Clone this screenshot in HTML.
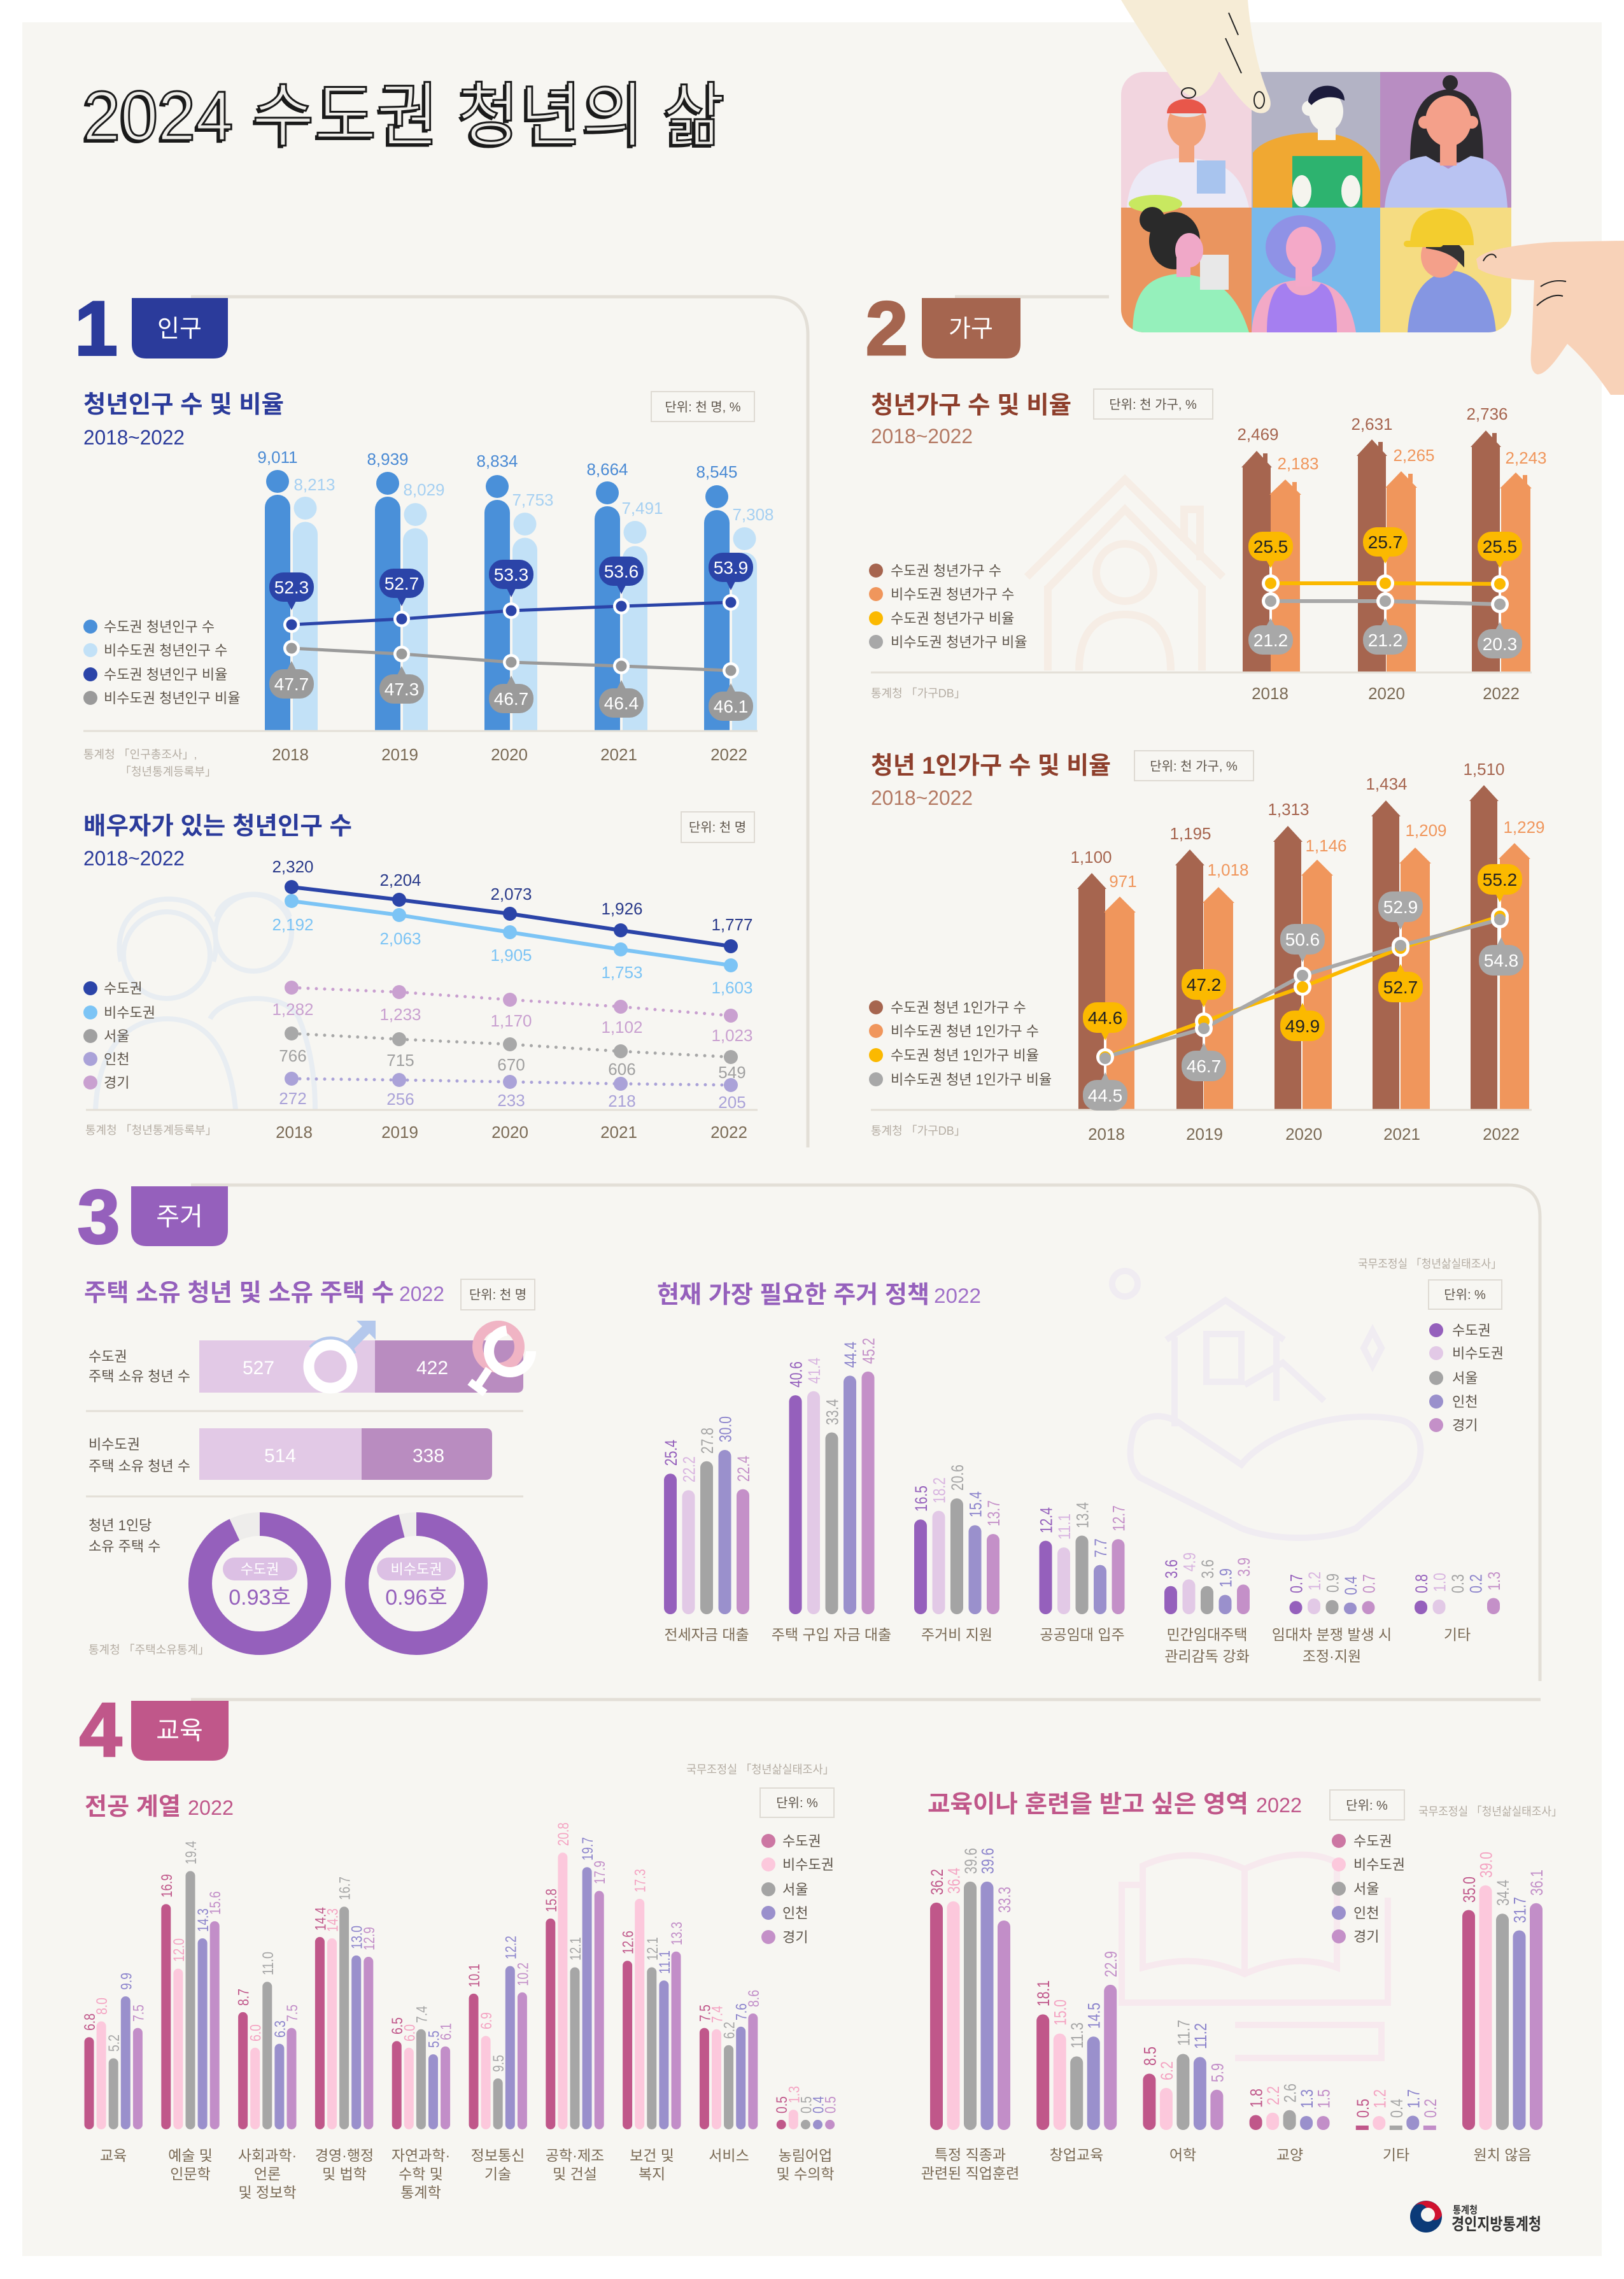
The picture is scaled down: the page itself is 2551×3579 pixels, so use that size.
<!DOCTYPE html>
<html><head><meta charset="utf-8">
<style>
html,body{margin:0;padding:0;background:#fff;}
svg{display:block}
text{font-family:"Liberation Sans","Noto Sans CJK KR",sans-serif;}
.n{font-family:"Liberation Sans Narrow","Liberation Sans","Noto Sans CJK KR",sans-serif;}
.b{font-weight:700}
.lg{font-size:22px;fill:#5e554b}
.yr{font-size:26px;fill:#7a6a55;text-anchor:middle}
.src{font-size:18px;fill:#b5ada3}
.unit{font-size:20px;fill:#5e554b;text-anchor:middle}
.v{font-size:26px;text-anchor:middle}
.bt{font-size:28px;text-anchor:middle}
.cat{font-size:23px;fill:#7a6a55;text-anchor:middle}
.r3{font-size:27px}
.r4{font-size:24px}
.r5{font-size:27px}
</style></head><body>
<svg width="2551" height="3579" viewBox="0 0 2551 3579" xmlns="http://www.w3.org/2000/svg">
<rect width="2551" height="3579" fill="#fff"/>
<rect x="35" y="35" width="2481" height="3508" fill="#f7f6f2"/>

<!-- frames -->
<g fill="none" stroke="#e3dfd7" stroke-width="5">
<path d="M300 466 H1209 Q1269 466 1269 526 V1802"/>
<path d="M1500 466 H1742"/>
<path d="M300 1861 H2369 Q2419 1861 2419 1911 V2640"/>
<path d="M300 2669 H2420"/>
</g>

<!-- faint background illustrations -->
<g fill="none" stroke="#e8edf2" stroke-width="8">
<circle cx="262" cy="1500" r="68"/>
<path d="M190 1510 C175 1440 230 1400 290 1415 C340 1430 345 1480 335 1510"/>
<circle cx="398" cy="1465" r="60"/>
<path d="M340 1440 C350 1395 440 1390 455 1440"/>
<path d="M150 1742 C155 1640 205 1600 262 1600 C320 1600 360 1640 370 1742"/>
<path d="M330 1600 C350 1560 450 1555 470 1600 C490 1650 495 1700 495 1742"/>
</g>
<g fill="none" stroke="#f6ede5" stroke-width="12">
<path d="M1613 906 L1767 753 L1921 906"/>
<path d="M1645 925 L1767 800 L1889 925"/>
<path d="M1646 920 V1053 M1888 920 V1053"/>
<circle cx="1767" cy="899" r="45"/>
<path d="M1695 1053 C1695 990 1725 965 1767 965 C1809 965 1839 990 1839 1053"/>
<path d="M1860 850 V800 H1885 V880"/>
</g>
<g fill="none" stroke="#f0ecf2" stroke-width="10">
<circle cx="1767" cy="2016" r="20"/>
<path d="M1832 2104 L1925 2042 L2017 2104"/>
<path d="M1845 2100 V2240 M2005 2100 V2200"/>
<rect x="1895" y="2095" width="55" height="75"/>
<path d="M1955 2175 L2015 2140 L2080 2200"/>
<path d="M1780 2250 C1790 2220 1830 2215 1860 2240 L1950 2300 C1990 2250 2100 2210 2200 2230 C2240 2240 2240 2300 2210 2330 L2130 2400 C2080 2420 2000 2420 1950 2400 L1790 2320 C1770 2300 1775 2270 1780 2250 Z"/>
<path d="M2156 2090 L2170 2117 L2156 2144 L2142 2117 Z"/>
</g>
<g fill="none" stroke="#f7e9ee" stroke-width="10">
<path d="M1795 2930 C1850 2905 1900 2910 1955 2935 C2010 2910 2060 2905 2100 2925 V3090 C2060 3075 2010 3075 1955 3100 C1900 3075 1850 3075 1795 3090 Z M1955 2935 V3100"/>
<path d="M1790 2960 H1762 V3145 H2180 V2980"/>
<path d="M1940 3180 H2170 V3232 H1940"/>
</g>

<!-- puzzle illustration -->
<clipPath id="pz"><rect x="1761" y="113" width="613" height="409" rx="36"/></clipPath>
<g clip-path="url(#pz)">
<rect x="1761" y="113" width="205" height="213" fill="#f2d5df"/>
<rect x="1966" y="113" width="202" height="213" fill="#b3b3c5"/>
<rect x="2168" y="113" width="206" height="213" fill="#b88dc2"/>
<rect x="1761" y="326" width="205" height="196" fill="#ea955f"/>
<rect x="1966" y="326" width="202" height="196" fill="#79b9eb"/>
<rect x="2168" y="326" width="206" height="196" fill="#f5dc82"/>
<!-- T1 -->
<path d="M1770 326 C1775 270 1800 250 1860 248 C1920 250 1950 270 1962 326 Z" fill="#eceaf6"/>
<rect x="1852" y="215" width="24" height="40" fill="#f2a27a"/>
<ellipse cx="1864" cy="196" rx="30" ry="36" fill="#f2a27a"/>
<ellipse cx="1864" cy="172" rx="30" ry="12" fill="#e4e4e4"/>
<path d="M1833 178 C1833 148 1895 148 1895 178 Z" fill="#e8574a"/>
<rect x="1880" y="252" width="45" height="52" fill="#a8c4ee"/>
<ellipse cx="1815" cy="320" rx="42" ry="14" fill="#c8e860"/>
<!-- T2 -->
<path d="M1968 326 V240 C1990 210 2060 205 2090 210 C2130 215 2160 240 2168 270 V326 Z" fill="#f0a832"/>
<rect x="2070" y="195" width="28" height="25" fill="#f5f4ee"/>
<ellipse cx="2083" cy="175" rx="27" ry="32" fill="#f5f4ee"/>
<circle cx="2057" cy="170" r="12" fill="#f5f4ee"/>
<path d="M2055 160 C2055 128 2112 125 2112 158 C2095 150 2075 150 2060 165 Z" fill="#1c1c3c"/>
<rect x="2030" y="245" width="110" height="81" fill="#2db36f"/>
<ellipse cx="2045" cy="300" rx="15" ry="25" fill="#f5f4ee"/>
<ellipse cx="2122" cy="300" rx="15" ry="25" fill="#f5f4ee"/>
<!-- T3 -->
<path d="M2215 255 C2215 180 2230 145 2275 140 C2320 145 2330 180 2330 255 Z" fill="#2c2a2e"/>
<circle cx="2278" cy="130" r="12" fill="#2c2a2e"/>
<path d="M2175 326 C2180 270 2200 250 2240 245 L2275 265 L2310 245 C2350 250 2365 270 2368 326 Z" fill="#b9c3f2"/>
<rect x="2262" y="215" width="26" height="45" fill="#f4a08a"/>
<ellipse cx="2275" cy="190" rx="36" ry="40" fill="#f4a08a"/>
<circle cx="2238" cy="192" r="10" fill="#f4a08a"/>
<circle cx="2312" cy="192" r="10" fill="#f4a08a"/>
<!-- T4 -->
<path d="M1779 522 C1780 460 1800 435 1850 430 C1900 432 1940 450 1962 522 Z" fill="#95f0bb"/>
<rect x="1885" y="400" width="45" height="55" fill="#e8e8e8"/>
<ellipse cx="1845" cy="378" rx="40" ry="45" fill="#2a2a2a"/>
<circle cx="1810" cy="345" r="20" fill="#2a2a2a"/>
<rect x="1848" y="405" width="22" height="30" fill="#f0a8c8"/>
<ellipse cx="1868" cy="393" rx="22" ry="27" fill="#f0a8c8"/>
<!-- T5 -->
<ellipse cx="2043" cy="388" rx="55" ry="50" fill="#8f92e6"/>
<path d="M1966 522 C1970 460 2000 440 2045 440 C2090 440 2120 460 2130 522 Z" fill="#f2a9c6"/>
<path d="M1990 522 C1990 470 2005 445 2020 445 C2030 470 2060 470 2075 445 C2090 450 2100 470 2100 522 Z" fill="#a57ff0"/>
<rect x="2035" y="410" width="26" height="40" fill="#f4a9c8"/>
<ellipse cx="2048" cy="390" rx="28" ry="34" fill="#f4a9c8"/>
<!-- T6 -->
<path d="M2211 522 C2215 460 2240 430 2280 425 C2320 428 2345 460 2350 522 Z" fill="#8596e2"/>
<ellipse cx="2262" cy="402" rx="30" ry="34" fill="#f4a08a"/>
<path d="M2240 380 C2260 370 2290 375 2300 395 L2300 420 C2290 410 2280 395 2240 390 Z" fill="#333"/>
<path d="M2215 385 C2215 340 2240 328 2265 328 C2295 328 2315 345 2315 385 Z" fill="#f3cd2e"/>
<rect x="2205" y="378" width="62" height="10" rx="5" fill="#f3cd2e"/>
</g>
<!-- hands -->
<path d="M1761 0 H1960 C1965 60 1978 115 1993 150 C2002 172 1988 182 1972 176 C1955 168 1935 140 1915 112 C1905 135 1893 152 1878 152 C1862 152 1848 135 1832 110 C1808 75 1782 35 1761 0 Z" fill="#f6ecd6"/>
<g fill="none" stroke="#222" stroke-width="2">
<ellipse cx="1978" cy="157" rx="8" ry="13"/>
<ellipse cx="1867" cy="146" rx="11" ry="8"/>
<path d="M1925 60 L1950 115 M1930 20 L1945 55"/>
</g>
<path d="M2319 407 C2332 392 2380 384 2440 380 L2551 378 V620 H2530 C2510 590 2485 560 2462 540 C2448 560 2430 588 2415 588 C2402 584 2404 560 2406 540 L2410 440 C2380 440 2340 434 2322 422 Z" fill="#f8d2b8"/>
<g fill="none" stroke="#222" stroke-width="2">
<path d="M2330 410 C2335 398 2348 396 2350 405"/>
<path d="M2420 450 C2435 440 2450 440 2460 442"/>
<path d="M2414 480 C2430 465 2445 462 2455 465"/>
</g>

<!-- header title -->
<text x="126" y="224" font-size="110" textLength="1009" lengthAdjust="spacingAndGlyphs" fill="#1a1a1a">2024 수도권 청년의 삶</text>
<text x="130" y="220" font-size="110" textLength="1009" lengthAdjust="spacingAndGlyphs" fill="#efeeea" stroke="#1a1a1a" stroke-width="3">2024 수도권 청년의 삶</text>

<!-- section badges -->
<text x="151" y="557" font-size="120" class="b" text-anchor="middle" fill="#2b3b9b" stroke="#2b3b9b" stroke-width="4">1</text>
<path d="M207 468 H358 V540 Q358 563 335 563 H230 Q207 563 207 540 Z" fill="#2b3b9b"/>
<text x="282" y="529" font-size="38" text-anchor="middle" fill="#fff">인구</text>
<text x="1393" y="557" font-size="120" class="b" text-anchor="middle" fill="#a5654f" stroke="#a5654f" stroke-width="3">2</text>
<path d="M1448 468 H1603 V540 Q1603 563 1580 563 H1471 Q1448 563 1448 540 Z" fill="#a5654f"/>
<text x="1525" y="529" font-size="38" text-anchor="middle" fill="#fff">가구</text>
<text x="155" y="1952" font-size="120" class="b" text-anchor="middle" fill="#9560bc" stroke="#9560bc" stroke-width="3">3</text>
<path d="M206 1863 H358 V1932 Q358 1957 333 1957 H231 Q206 1957 206 1932 Z" fill="#9560bc"/>
<text x="282" y="1924" font-size="40" text-anchor="middle" fill="#fff">주거</text>
<text x="158" y="2758" font-size="120" class="b" text-anchor="middle" fill="#c0578a" stroke="#c0578a" stroke-width="3">4</text>
<path d="M206 2671 H359 V2740 Q359 2765 334 2765 H231 Q206 2765 206 2740 Z" fill="#c0578a"/>
<text x="282" y="2731" font-size="40" text-anchor="middle" fill="#fff">교육</text>

<!-- ================= S1 C1 ================= -->
<text x="131" y="648" font-size="38" class="b" fill="#2b3b9b" textLength="315" lengthAdjust="spacingAndGlyphs">청년인구 수 및 비율</text>
<text x="131" y="698" font-size="32" class="n" fill="#2b3b9b" textLength="159" lengthAdjust="spacingAndGlyphs">2018~2022</text>
<rect x="1023" y="615" width="162" height="47" fill="none" stroke="#dedad3" stroke-width="2"/>
<text x="1104" y="646" class="unit">단위: 천 명, %</text>
<!-- bars -->
<g fill="#4a90d9">
<path d="M416 1147 V797 A20 20 0 0 1 456 797 V1147 Z"/><circle cx="436" cy="756" r="18"/>
<path d="M589 1147 V800 A20 20 0 0 1 629 800 V1147 Z"/><circle cx="609" cy="759" r="18"/>
<path d="M761 1147 V805 A20 20 0 0 1 801 805 V1147 Z"/><circle cx="781" cy="764" r="18"/>
<path d="M934 1147 V815 A20 20 0 0 1 974 815 V1147 Z"/><circle cx="954" cy="774" r="18"/>
<path d="M1106 1147 V821 A20 20 0 0 1 1146 821 V1147 Z"/><circle cx="1126" cy="780" r="18"/>
</g>
<g fill="#c2e1f7">
<path d="M460 1147 V839 A19.5 19.5 0 0 1 499 839 V1147 Z"/><circle cx="479.5" cy="798" r="18"/>
<path d="M633 1147 V849 A19.5 19.5 0 0 1 672 849 V1147 Z"/><circle cx="652.5" cy="808" r="18"/>
<path d="M805 1147 V864 A19.5 19.5 0 0 1 844 864 V1147 Z"/><circle cx="824.5" cy="823" r="18"/>
<path d="M978 1147 V877 A19.5 19.5 0 0 1 1017 877 V1147 Z"/><circle cx="997.5" cy="836" r="18"/>
<path d="M1150 1147 V887 A19.5 19.5 0 0 1 1189 887 V1147 Z"/><circle cx="1169.5" cy="846" r="18"/>
</g>
<line x1="131" y1="1148" x2="1190" y2="1148" stroke="#e3dfd7" stroke-width="3"/>
<g class="n v" fill="#4a8ad4">
<text x="436" y="727">9,011</text><text x="609" y="730">8,939</text><text x="781" y="733">8,834</text><text x="954" y="746">8,664</text><text x="1126" y="750">8,545</text>
</g>
<g class="n v" fill="#a6d0f2">
<text x="494" y="770">8,213</text><text x="666" y="778">8,029</text><text x="837" y="794">7,753</text><text x="1009" y="807">7,491</text><text x="1183" y="817">7,308</text>
</g>
<polyline points="458,981 631,972 803,959 976,952 1148,946" fill="none" stroke="#2b44a8" stroke-width="5"/>
<polyline points="458,1018 631,1027 803,1040 976,1046 1148,1053" fill="none" stroke="#9a9a9a" stroke-width="5"/>
<g fill="#fff"><circle cx="458" cy="981" r="13"/><circle cx="631" cy="972" r="13"/><circle cx="803" cy="959" r="13"/><circle cx="976" cy="952" r="13"/><circle cx="1148" cy="946" r="13"/>
<circle cx="458" cy="1018" r="13"/><circle cx="631" cy="1027" r="13"/><circle cx="803" cy="1040" r="13"/><circle cx="976" cy="1046" r="13"/><circle cx="1148" cy="1053" r="13"/></g>
<g fill="#2b44a8"><circle cx="458" cy="981" r="8.5"/><circle cx="631" cy="972" r="8.5"/><circle cx="803" cy="959" r="8.5"/><circle cx="976" cy="952" r="8.5"/><circle cx="1148" cy="946" r="8.5"/></g>
<g fill="#9a9a9a"><circle cx="458" cy="1018" r="8.5"/><circle cx="631" cy="1027" r="8.5"/><circle cx="803" cy="1040" r="8.5"/><circle cx="976" cy="1046" r="8.5"/><circle cx="1148" cy="1053" r="8.5"/></g>
<!-- navy bubbles -->
<g fill="#2b44a8">
<g transform="translate(458,922)"><rect x="-35" y="-23" width="70" height="46" rx="22"/><path d="M-8 20 L8 20 L0 36Z"/><text class="n bt" y="10" fill="#fff">52.3</text></g>
<g transform="translate(631,916)"><rect x="-35" y="-23" width="70" height="46" rx="22"/><path d="M-8 20 L8 20 L0 36Z"/><text class="n bt" y="10" fill="#fff">52.7</text></g>
<g transform="translate(803,902)"><rect x="-35" y="-23" width="70" height="46" rx="22"/><path d="M-8 20 L8 20 L0 36Z"/><text class="n bt" y="10" fill="#fff">53.3</text></g>
<g transform="translate(976,897)"><rect x="-35" y="-23" width="70" height="46" rx="22"/><path d="M-8 20 L8 20 L0 36Z"/><text class="n bt" y="10" fill="#fff">53.6</text></g>
<g transform="translate(1148,891)"><rect x="-35" y="-23" width="70" height="46" rx="22"/><path d="M-8 20 L8 20 L0 36Z"/><text class="n bt" y="10" fill="#fff">53.9</text></g>
</g>
<g fill="#9a9a9a">
<g transform="translate(458,1074)"><rect x="-35" y="-23" width="70" height="46" rx="22"/><path d="M-8 -20 L8 -20 L0 -36Z"/><text class="n bt" y="10" fill="#fff">47.7</text></g>
<g transform="translate(631,1082)"><rect x="-35" y="-23" width="70" height="46" rx="22"/><path d="M-8 -20 L8 -20 L0 -36Z"/><text class="n bt" y="10" fill="#fff">47.3</text></g>
<g transform="translate(803,1097)"><rect x="-35" y="-23" width="70" height="46" rx="22"/><path d="M-8 -20 L8 -20 L0 -36Z"/><text class="n bt" y="10" fill="#fff">46.7</text></g>
<g transform="translate(976,1104)"><rect x="-35" y="-23" width="70" height="46" rx="22"/><path d="M-8 -20 L8 -20 L0 -36Z"/><text class="n bt" y="10" fill="#fff">46.4</text></g>
<g transform="translate(1148,1109)"><rect x="-35" y="-23" width="70" height="46" rx="22"/><path d="M-8 -20 L8 -20 L0 -36Z"/><text class="n bt" y="10" fill="#fff">46.1</text></g>
</g>
<g class="n yr"><text x="456" y="1194">2018</text><text x="628" y="1194">2019</text><text x="800" y="1194">2020</text><text x="972" y="1194">2021</text><text x="1145" y="1194">2022</text></g>
<circle cx="142" cy="984" r="11" fill="#4a90d9"/><circle cx="142" cy="1021" r="11" fill="#c2e1f7"/><circle cx="142" cy="1059" r="11" fill="#2b44a8"/><circle cx="142" cy="1096" r="11" fill="#9a9a9a"/>
<text x="163" y="992" class="lg">수도권 청년인구 수</text>
<text x="163" y="1029" class="lg">비수도권 청년인구 수</text>
<text x="163" y="1067" class="lg">수도권 청년인구 비율</text>
<text x="163" y="1104" class="lg">비수도권 청년인구 비율</text>
<text x="131" y="1191" class="src">통계청 「인구총조사」,</text>
<text x="188" y="1218" class="src">「청년통계등록부」</text>

<!-- ================= S1 C2 ================= -->
<text x="131" y="1310" font-size="38" class="b" fill="#2b3b9b" textLength="422" lengthAdjust="spacingAndGlyphs">배우자가 있는 청년인구 수</text>
<text x="131" y="1359" font-size="32" class="n" fill="#2b3b9b" textLength="159" lengthAdjust="spacingAndGlyphs">2018~2022</text>
<rect x="1070" y="1275" width="115" height="48" fill="none" stroke="#dedad3" stroke-width="2"/>
<text x="1127" y="1306" class="unit">단위: 천 명</text>
<line x1="135" y1="1743" x2="1190" y2="1743" stroke="#e3dfd7" stroke-width="3"/>
<polyline points="458,1393 627,1413 801,1435 975,1461 1148,1486" fill="none" stroke="#2b44a8" stroke-width="6"/>
<polyline points="458,1415 627,1437 801,1464 975,1491 1148,1516" fill="none" stroke="#7cc4f5" stroke-width="6"/>
<g fill="none" stroke-width="5" stroke-linecap="round" stroke-dasharray="0 13">
<polyline points="458,1551 627,1558 801,1570 975,1581 1148,1595" stroke="#c9a0d0"/>
<polyline points="458,1623 627,1632 801,1640 975,1651 1148,1660" stroke="#a8a8a8"/>
<polyline points="458,1694 627,1696 801,1699 975,1702 1148,1704" stroke="#aaa2d8"/>
</g>
<g fill="#2b44a8"><circle cx="458" cy="1393" r="11"/><circle cx="627" cy="1413" r="11"/><circle cx="801" cy="1435" r="11"/><circle cx="975" cy="1461" r="11"/><circle cx="1148" cy="1486" r="11"/></g>
<g fill="#7cc4f5"><circle cx="458" cy="1415" r="11"/><circle cx="627" cy="1437" r="11"/><circle cx="801" cy="1464" r="11"/><circle cx="975" cy="1491" r="11"/><circle cx="1148" cy="1516" r="11"/></g>
<g fill="#c9a0d0"><circle cx="458" cy="1551" r="11"/><circle cx="627" cy="1558" r="11"/><circle cx="801" cy="1570" r="11"/><circle cx="975" cy="1581" r="11"/><circle cx="1148" cy="1595" r="11"/></g>
<g fill="#a8a8a8"><circle cx="458" cy="1623" r="11"/><circle cx="627" cy="1632" r="11"/><circle cx="801" cy="1640" r="11"/><circle cx="975" cy="1651" r="11"/><circle cx="1148" cy="1660" r="11"/></g>
<g fill="#aaa2d8"><circle cx="458" cy="1694" r="11"/><circle cx="627" cy="1696" r="11"/><circle cx="801" cy="1699" r="11"/><circle cx="975" cy="1702" r="11"/><circle cx="1148" cy="1704" r="11"/></g>
<g class="n v" fill="#2a3a8a"><text x="460" y="1370">2,320</text><text x="629" y="1391">2,204</text><text x="803" y="1413">2,073</text><text x="977" y="1436">1,926</text><text x="1150" y="1461">1,777</text></g>
<g class="n v" fill="#7cc4f5"><text x="460" y="1461">2,192</text><text x="629" y="1483">2,063</text><text x="803" y="1509">1,905</text><text x="977" y="1536">1,753</text><text x="1150" y="1560">1,603</text></g>
<g class="n v" fill="#c9a0d0"><text x="460" y="1594">1,282</text><text x="629" y="1602">1,233</text><text x="803" y="1612">1,170</text><text x="977" y="1622">1,102</text><text x="1150" y="1635">1,023</text></g>
<g class="n v" fill="#a0a0a0"><text x="460" y="1667">766</text><text x="629" y="1674">715</text><text x="803" y="1681">670</text><text x="977" y="1688">606</text><text x="1150" y="1693">549</text></g>
<g class="n v" fill="#aaa2d8"><text x="460" y="1734">272</text><text x="629" y="1735">256</text><text x="803" y="1737">233</text><text x="977" y="1738">218</text><text x="1150" y="1740">205</text></g>
<g class="n yr"><text x="462" y="1787">2018</text><text x="628" y="1787">2019</text><text x="801" y="1787">2020</text><text x="972" y="1787">2021</text><text x="1145" y="1787">2022</text></g>
<circle cx="142" cy="1552" r="11" fill="#2b44a8"/><circle cx="142" cy="1590" r="11" fill="#7cc4f5"/><circle cx="142" cy="1627" r="11" fill="#a0a0a0"/><circle cx="142" cy="1663" r="11" fill="#aaa2d8"/><circle cx="142" cy="1700" r="11" fill="#c9a0d0"/>
<text x="163" y="1560" class="lg">수도권</text><text x="163" y="1598" class="lg">비수도권</text><text x="163" y="1635" class="lg">서울</text><text x="163" y="1671" class="lg">인천</text><text x="163" y="1708" class="lg">경기</text>
<text x="134" y="1781" class="src">통계청 「청년통계등록부」</text>

<!-- ================= S2 C1 ================= -->
<text x="1368" y="649" font-size="38" class="b" fill="#8e3f2c" textLength="315" lengthAdjust="spacingAndGlyphs">청년가구 수 및 비율</text>
<rect x="1718" y="611" width="187" height="47" fill="none" stroke="#dedad3" stroke-width="2"/>
<text x="1811" y="642" class="unit">단위: 천 가구, %</text>
<text x="1368" y="696" font-size="32" class="n" fill="#b47a64" textLength="160" lengthAdjust="spacingAndGlyphs">2018~2022</text>
<g fill="#a6654f">
<path d="M1952 1055 V734 H1950 L1974 708 L1998 734 H1996 V1055 Z"/><rect x="1984" y="712" width="7" height="14"/>
<path d="M2133 1055 V716 H2131 L2155 690 L2179 716 H2177 V1055 Z"/><rect x="2165" y="694" width="7" height="14"/>
<path d="M2312 1055 V702 H2310 L2334 676 L2358 702 H2356 V1055 Z"/><rect x="2344" y="680" width="7" height="14"/>
</g>
<g fill="#f0965c">
<path d="M1996 1055 V777 H1994 L2019 753 L2044 777 H2042 V1055 Z"/><rect x="2030" y="757" width="7" height="14"/>
<path d="M2178 1055 V766 H2176 L2201 740 L2226 766 H2224 V1055 Z"/><rect x="2212" y="744" width="7" height="14"/>
<path d="M2358 1055 V767 H2356 L2381 742 L2406 767 H2404 V1055 Z"/><rect x="2392" y="746" width="7" height="14"/>
</g>
<line x1="1368" y1="1056" x2="2406" y2="1056" stroke="#e3dfd7" stroke-width="3"/>
<g stroke="#fff" stroke-width="4"><line x1="1996" y1="880" x2="1996" y2="982"/><line x1="2176" y1="873" x2="2176" y2="982"/><line x1="2356" y1="880" x2="2356" y2="988"/></g>
<g class="n v" fill="#a6654f"><text x="1976" y="691">2,469</text><text x="2155" y="675">2,631</text><text x="2336" y="659">2,736</text></g>
<g class="n v" fill="#f0965c"><text x="2039" y="737">2,183</text><text x="2221" y="724">2,265</text><text x="2397" y="728">2,243</text></g>
<polyline points="1996,916 2176,916 2356,917" fill="none" stroke="#fbb900" stroke-width="6"/>
<polyline points="1996,944 2176,944 2356,949" fill="none" stroke="#a8a8a8" stroke-width="6"/>
<g fill="#fff"><circle cx="1996" cy="916" r="14"/><circle cx="2176" cy="916" r="14"/><circle cx="2356" cy="917" r="14"/><circle cx="1996" cy="944" r="14"/><circle cx="2176" cy="944" r="14"/><circle cx="2356" cy="949" r="14"/></g>
<g fill="#fbb900"><circle cx="1996" cy="916" r="9"/><circle cx="2176" cy="916" r="9"/><circle cx="2356" cy="917" r="9"/></g>
<g fill="#a8a8a8"><circle cx="1996" cy="944" r="9"/><circle cx="2176" cy="944" r="9"/><circle cx="2356" cy="949" r="9"/></g>
<g fill="#fbb900">
<g transform="translate(1996,858)"><rect x="-35" y="-23" width="70" height="46" rx="22"/><path d="M-8 20 L8 20 L0 34Z"/><text class="n bt" y="10" fill="#222">25.5</text></g>
<g transform="translate(2176,851)"><rect x="-35" y="-23" width="70" height="46" rx="22"/><path d="M-8 20 L8 20 L0 34Z"/><text class="n bt" y="10" fill="#222">25.7</text></g>
<g transform="translate(2356,858)"><rect x="-35" y="-23" width="70" height="46" rx="22"/><path d="M-8 20 L8 20 L0 34Z"/><text class="n bt" y="10" fill="#222">25.5</text></g>
</g>
<g fill="#a8a8a8">
<g transform="translate(1996,1005)"><rect x="-35" y="-23" width="70" height="46" rx="22"/><path d="M-8 -20 L8 -20 L0 -34Z"/><text class="n bt" y="10" fill="#fff">21.2</text></g>
<g transform="translate(2176,1005)"><rect x="-35" y="-23" width="70" height="46" rx="22"/><path d="M-8 -20 L8 -20 L0 -34Z"/><text class="n bt" y="10" fill="#fff">21.2</text></g>
<g transform="translate(2356,1011)"><rect x="-35" y="-23" width="70" height="46" rx="22"/><path d="M-8 -20 L8 -20 L0 -34Z"/><text class="n bt" y="10" fill="#fff">20.3</text></g>
</g>
<g class="n yr"><text x="1995" y="1098">2018</text><text x="2178" y="1098">2020</text><text x="2358" y="1098">2022</text></g>
<circle cx="1376" cy="896" r="11" fill="#a6654f"/><circle cx="1376" cy="933" r="11" fill="#f0965c"/><circle cx="1376" cy="971" r="11" fill="#fbb900"/><circle cx="1376" cy="1008" r="11" fill="#a8a8a8"/>
<text x="1399" y="904" class="lg">수도권 청년가구 수</text><text x="1399" y="941" class="lg">비수도권 청년가구 수</text><text x="1399" y="979" class="lg">수도권 청년가구 비율</text><text x="1399" y="1016" class="lg">비수도권 청년가구 비율</text>
<text x="1368" y="1095" class="src">통계청 「가구DB」</text>

<!-- ================= S2 C2 ================= -->
<text x="1368" y="1215" font-size="38" class="b" fill="#8e3f2c" textLength="377" lengthAdjust="spacingAndGlyphs">청년 1인가구 수 및 비율</text>
<rect x="1782" y="1179" width="187" height="47" fill="none" stroke="#dedad3" stroke-width="2"/>
<text x="1875" y="1210" class="unit">단위: 천 가구, %</text>
<text x="1368" y="1264" font-size="32" class="n" fill="#b47a64" textLength="160" lengthAdjust="spacingAndGlyphs">2018~2022</text>
<g fill="#a6654f">
<path d="M1694 1742 V1396 H1692 L1715 1371 L1738 1396 H1736 V1742 Z"/>
<path d="M1848 1742 V1359 H1846 L1869 1334 L1892 1359 H1890 V1742 Z"/>
<path d="M2002 1742 V1322 H2000 L2023 1297 L2046 1322 H2044 V1742 Z"/>
<path d="M2156 1742 V1282 H2154 L2177 1257 L2200 1282 H2198 V1742 Z"/>
<path d="M2310 1742 V1258 H2308 L2331 1233 L2354 1258 H2352 V1742 Z"/>
</g>
<g fill="#f0965c">
<path d="M1736 1742 V1433 H1734 L1759 1408 L1784 1433 H1782 V1742 Z"/>
<path d="M1891 1742 V1418 H1889 L1914 1393 L1939 1418 H1937 V1742 Z"/>
<path d="M2046 1742 V1375 H2044 L2069 1350 L2094 1375 H2092 V1742 Z"/>
<path d="M2200 1742 V1356 H2198 L2223 1331 L2248 1356 H2246 V1742 Z"/>
<path d="M2356 1742 V1349 H2354 L2379 1324 L2404 1349 H2402 V1742 Z"/>
</g>
<line x1="1368" y1="1743" x2="2406" y2="1743" stroke="#e3dfd7" stroke-width="3"/>
<g stroke="#fff" stroke-width="4"><line x1="1736" y1="1620" x2="1736" y2="1742"/><line x1="1891" y1="1568" x2="1891" y2="1652"/><line x1="2046" y1="1497" x2="2046" y2="1590"/><line x1="2200" y1="1446" x2="2200" y2="1530"/><line x1="2356" y1="1404" x2="2356" y2="1486"/></g>
<g class="n v" fill="#a6654f"><text x="1714" y="1355">1,100</text><text x="1870" y="1318">1,195</text><text x="2024" y="1280">1,313</text><text x="2178" y="1240">1,434</text><text x="2331" y="1217">1,510</text></g>
<g class="n v" fill="#f0965c"><text x="1764" y="1393">971</text><text x="1929" y="1375">1,018</text><text x="2083" y="1337">1,146</text><text x="2240" y="1313">1,209</text><text x="2394" y="1308">1,229</text></g>
<polyline points="1736,1660 1891,1604 2046,1550 2200,1489 2356,1439" fill="none" stroke="#fbb900" stroke-width="6"/>
<polyline points="1736,1660 1891,1615 2046,1532 2200,1485 2356,1444" fill="none" stroke="#a8a8a8" stroke-width="6"/>
<g fill="#fff"><circle cx="1736" cy="1660" r="14"/><circle cx="1891" cy="1604" r="14"/><circle cx="2046" cy="1550" r="14"/><circle cx="2200" cy="1489" r="14"/><circle cx="2356" cy="1439" r="14"/>
<circle cx="1891" cy="1615" r="14"/><circle cx="2046" cy="1532" r="14"/><circle cx="2200" cy="1485" r="14"/><circle cx="2356" cy="1444" r="14"/></g>
<g fill="#fbb900"><circle cx="1736" cy="1660" r="9"/><circle cx="1891" cy="1604" r="9"/><circle cx="2046" cy="1550" r="9"/><circle cx="2200" cy="1489" r="9"/><circle cx="2356" cy="1439" r="9"/></g>
<g fill="#a8a8a8"><circle cx="1736" cy="1662" r="9"/><circle cx="1891" cy="1615" r="9"/><circle cx="2046" cy="1532" r="9"/><circle cx="2200" cy="1485" r="9"/><circle cx="2356" cy="1444" r="9"/></g>
<g fill="#fbb900">
<g transform="translate(1736,1598)"><rect x="-35" y="-24" width="70" height="48" rx="22"/><path d="M-8 20 L8 20 L0 36Z"/><text class="n bt" y="10" fill="#222">44.6</text></g>
<g transform="translate(1891,1546)"><rect x="-35" y="-24" width="70" height="48" rx="22"/><path d="M-8 20 L8 20 L0 36Z"/><text class="n bt" y="10" fill="#222">47.2</text></g>
<g transform="translate(2046,1611)"><rect x="-35" y="-24" width="70" height="48" rx="22"/><path d="M-8 -20 L8 -20 L0 -36Z"/><text class="n bt" y="10" fill="#222">49.9</text></g>
<g transform="translate(2200,1550)"><rect x="-35" y="-24" width="70" height="48" rx="22"/><path d="M-8 -20 L8 -20 L0 -36Z"/><text class="n bt" y="10" fill="#222">52.7</text></g>
<g transform="translate(2356,1381)"><rect x="-35" y="-24" width="70" height="48" rx="22"/><path d="M-8 20 L8 20 L0 36Z"/><text class="n bt" y="10" fill="#222">55.2</text></g>
</g>
<g fill="#a8a8a8">
<g transform="translate(1736,1720)"><rect x="-35" y="-24" width="70" height="48" rx="22"/><path d="M-8 -20 L8 -20 L0 -36Z"/><text class="n bt" y="10" fill="#fff">44.5</text></g>
<g transform="translate(1891,1674)"><rect x="-35" y="-24" width="70" height="48" rx="22"/><path d="M-8 -20 L8 -20 L0 -36Z"/><text class="n bt" y="10" fill="#fff">46.7</text></g>
<g transform="translate(2046,1475)"><rect x="-35" y="-24" width="70" height="48" rx="22"/><path d="M-8 20 L8 20 L0 36Z"/><text class="n bt" y="10" fill="#fff">50.6</text></g>
<g transform="translate(2200,1424)"><rect x="-35" y="-24" width="70" height="48" rx="22"/><path d="M-8 20 L8 20 L0 36Z"/><text class="n bt" y="10" fill="#fff">52.9</text></g>
<g transform="translate(2358,1508)"><rect x="-35" y="-24" width="70" height="48" rx="22"/><path d="M-8 -20 L8 -20 L0 -36Z"/><text class="n bt" y="10" fill="#fff">54.8</text></g>
</g>
<g class="n yr"><text x="1738" y="1790">2018</text><text x="1892" y="1790">2019</text><text x="2048" y="1790">2020</text><text x="2202" y="1790">2021</text><text x="2358" y="1790">2022</text></g>
<circle cx="1376" cy="1582" r="11" fill="#a6654f"/><circle cx="1376" cy="1619" r="11" fill="#f0965c"/><circle cx="1376" cy="1657" r="11" fill="#fbb900"/><circle cx="1376" cy="1695" r="11" fill="#a8a8a8"/>
<text x="1399" y="1590" class="lg">수도권 청년 1인가구 수</text><text x="1399" y="1627" class="lg">비수도권 청년 1인가구 수</text><text x="1399" y="1665" class="lg">수도권 청년 1인가구 비율</text><text x="1399" y="1703" class="lg">비수도권 청년 1인가구 비율</text>
<text x="1368" y="1782" class="src">통계청 「가구DB」</text>

<!-- ================= S3 left ================= -->
<text x="132" y="2043" font-size="38" class="b" fill="#9560bc" textLength="487" lengthAdjust="spacingAndGlyphs">주택 소유 청년 및 소유 주택 수</text>
<text x="627" y="2043" font-size="32" class="n" fill="#a070c8" textLength="71" lengthAdjust="spacingAndGlyphs">2022</text>
<rect x="724" y="2009" width="116" height="48" fill="none" stroke="#dedad3" stroke-width="2"/>
<text x="782" y="2040" class="unit">단위: 천 명</text>
<text x="139" y="2138" class="lg" fill="#6e6050">수도권</text>
<text x="139" y="2169" class="lg" fill="#6e6050">주택 소유 청년 수</text>
<rect x="313" y="2105" width="276" height="82" fill="#e2c9e6"/>
<path d="M589 2105 H812 Q822 2105 822 2115 V2177 Q822 2187 812 2187 H589 Z" fill="#b98cc0"/>
<!-- male symbol -->
<path d="M545 2118 L578 2085" stroke="#b4c8ec" stroke-width="16"/>
<path d="M560 2074 H590 V2104 Z" fill="#b4c8ec"/>
<path d="M492 2120 A36 36 0 0 1 552 2128" fill="none" stroke="#b4c8ec" stroke-width="17"/>
<circle cx="519" cy="2146" r="34" fill="none" stroke="#fff" stroke-width="17"/>
<!-- female symbol -->
<circle cx="783" cy="2115" r="33" fill="none" stroke="#f0b4c4" stroke-width="16"/>
<circle cx="801" cy="2122" r="33" fill="none" stroke="#fff" stroke-width="16" stroke-dasharray="150 60"/>
<path d="M768 2150 L748 2180 M738 2170 L762 2188" stroke="#fff" stroke-width="12"/>
<text x="406" y="2158" font-size="30" class="n" text-anchor="middle" fill="#fff">527</text>
<text x="679" y="2158" font-size="30" class="n" text-anchor="middle" fill="#fff">422</text>
<line x1="135" y1="2216" x2="822" y2="2216" stroke="#e3dfd7" stroke-width="3"/>
<text x="139" y="2276" class="lg" fill="#6e6050">비수도권</text>
<text x="139" y="2310" class="lg" fill="#6e6050">주택 소유 청년 수</text>
<rect x="313" y="2243" width="255" height="81" fill="#e2c9e6"/>
<path d="M568 2243 H763 Q773 2243 773 2253 V2314 Q773 2324 763 2324 H568 Z" fill="#b98cc0"/>
<text x="440" y="2296" font-size="30" class="n" text-anchor="middle" fill="#fff">514</text>
<text x="673" y="2296" font-size="30" class="n" text-anchor="middle" fill="#fff">338</text>
<line x1="135" y1="2350" x2="822" y2="2350" stroke="#e3dfd7" stroke-width="3"/>
<text x="139" y="2403" class="lg" fill="#6e6050">청년 1인당</text>
<text x="139" y="2436" class="lg" fill="#6e6050">소유 주택 수</text>
<circle cx="408" cy="2487" r="93.5" fill="none" stroke="#eeedeb" stroke-width="37"/>
<circle cx="408" cy="2487" r="93.5" fill="none" stroke="#9560bc" stroke-width="37" stroke-dasharray="546.4 600" transform="rotate(-90 408 2487)"/>
<circle cx="654" cy="2487" r="93.5" fill="none" stroke="#eeedeb" stroke-width="37"/>
<circle cx="654" cy="2487" r="93.5" fill="none" stroke="#9560bc" stroke-width="37" stroke-dasharray="564 600" transform="rotate(-90 654 2487)"/>
<rect x="350" y="2446" width="117" height="36" rx="18" fill="#dcc0e4"/>
<text x="408" y="2472" font-size="22" text-anchor="middle" fill="#fff">수도권</text>
<rect x="592" y="2446" width="124" height="36" rx="18" fill="#dcc0e4"/>
<text x="654" y="2472" font-size="22" text-anchor="middle" fill="#fff">비수도권</text>
<text x="408" y="2520" font-size="34" class="n" text-anchor="middle" fill="#9560bc">0.93호</text>
<text x="654" y="2520" font-size="34" class="n" text-anchor="middle" fill="#9560bc">0.96호</text>
<text x="139" y="2597" class="src">통계청 「주택소유통계」</text>

<!-- ================= S3 right ================= -->
<text x="1032" y="2046" font-size="38" class="b" fill="#9560bc" textLength="428" lengthAdjust="spacingAndGlyphs">현재 가장 필요한 주거 정책</text>
<text x="1467" y="2046" font-size="32" class="n" fill="#a070c8" textLength="74" lengthAdjust="spacingAndGlyphs">2022</text>
<text x="2133" y="1991" class="src" textLength="226" lengthAdjust="spacingAndGlyphs">국무조정실 「청년삶실태조사」</text>
<rect x="2244" y="2010" width="115" height="46" fill="none" stroke="#dedad3" stroke-width="2"/>
<text x="2301" y="2040" class="unit">단위: %</text>
<circle cx="2256" cy="2089" r="11" fill="#9560bc"/><circle cx="2256" cy="2125" r="11" fill="#e2c9e6"/><circle cx="2256" cy="2164" r="11" fill="#a4a4a4"/><circle cx="2256" cy="2201" r="11" fill="#9a90cc"/><circle cx="2256" cy="2238" r="11" fill="#c490c8"/>
<text x="2281" y="2097" class="lg">수도권</text><text x="2281" y="2133" class="lg">비수도권</text><text x="2281" y="2172" class="lg">서울</text><text x="2281" y="2209" class="lg">인천</text><text x="2281" y="2246" class="lg">경기</text>
<g>
<rect x="1043" y="2314.3" width="20" height="220.7" rx="10" fill="#9560bc"/>
<rect x="1071.5" y="2340.2" width="20" height="194.8" rx="10" fill="#e2c9e6"/>
<rect x="1100" y="2294.8" width="20" height="240.2" rx="10" fill="#a4a4a4"/>
<rect x="1128.5" y="2277" width="20" height="258" rx="10" fill="#9a90cc"/>
<rect x="1157" y="2338.6" width="20" height="196.4" rx="10" fill="#c490c8"/>
<rect x="1239.5" y="2191.1" width="20" height="343.9" rx="10" fill="#9560bc"/>
<rect x="1268" y="2184.7" width="20" height="350.3" rx="10" fill="#e2c9e6"/>
<rect x="1296.5" y="2249.5" width="20" height="285.5" rx="10" fill="#a4a4a4"/>
<rect x="1325" y="2160.4" width="20" height="374.6" rx="10" fill="#9a90cc"/>
<rect x="1353.5" y="2153.9" width="20" height="381.1" rx="10" fill="#c490c8"/>
<rect x="1436" y="2386.3" width="20" height="148.7" rx="10" fill="#9560bc"/>
<rect x="1464.5" y="2372.6" width="20" height="162.4" rx="10" fill="#e2c9e6"/>
<rect x="1493" y="2353.1" width="20" height="181.9" rx="10" fill="#a4a4a4"/>
<rect x="1521.5" y="2395.3" width="20" height="139.7" rx="10" fill="#9a90cc"/>
<rect x="1550" y="2409" width="20" height="126" rx="10" fill="#c490c8"/>
<rect x="1632.5" y="2419.6" width="20" height="115.4" rx="10" fill="#9560bc"/>
<rect x="1661" y="2430.1" width="20" height="104.9" rx="10" fill="#e2c9e6"/>
<rect x="1689.5" y="2411.5" width="20" height="123.5" rx="10" fill="#a4a4a4"/>
<rect x="1718" y="2457.6" width="20" height="77.4" rx="10" fill="#9a90cc"/>
<rect x="1746.5" y="2417.1" width="20" height="117.9" rx="10" fill="#c490c8"/>
<rect x="1829" y="2490.8" width="20" height="44.2" rx="10" fill="#9560bc"/>
<rect x="1857.5" y="2480.3" width="20" height="54.7" rx="10" fill="#e2c9e6"/>
<rect x="1886" y="2490.8" width="20" height="44.2" rx="10" fill="#a4a4a4"/>
<rect x="1914.5" y="2504.6" width="20" height="30.4" rx="10" fill="#9a90cc"/>
<rect x="1943" y="2488.4" width="20" height="46.6" rx="10" fill="#c490c8"/>
<rect x="2025.5" y="2514.3" width="20" height="20.7" rx="10" fill="#9560bc"/>
<rect x="2054" y="2510.3" width="20" height="24.7" rx="10" fill="#e2c9e6"/>
<rect x="2082.5" y="2512.7" width="20" height="22.3" rx="10" fill="#a4a4a4"/>
<rect x="2111" y="2516.8" width="20" height="18.2" rx="9" fill="#9a90cc"/>
<rect x="2139.5" y="2514.3" width="20" height="20.7" rx="10" fill="#c490c8"/>
<rect x="2222" y="2513.5" width="20" height="21.5" rx="10" fill="#9560bc"/>
<rect x="2250.5" y="2511.9" width="20" height="23.1" rx="10" fill="#e2c9e6"/>
<rect x="2336" y="2509.5" width="20" height="25.5" rx="10" fill="#c490c8"/>
</g>
<g class="r3">
<g fill="#9560bc">
<text x="1063" y="2302" transform="rotate(-90 1063 2302)" textLength="41" lengthAdjust="spacingAndGlyphs">25.4</text>
<text x="1259.5" y="2179" transform="rotate(-90 1259.5 2179)" textLength="41" lengthAdjust="spacingAndGlyphs">40.6</text>
<text x="1456" y="2374" transform="rotate(-90 1456 2374)" textLength="41" lengthAdjust="spacingAndGlyphs">16.5</text>
<text x="1652.5" y="2408" transform="rotate(-90 1652.5 2408)" textLength="41" lengthAdjust="spacingAndGlyphs">12.4</text>
<text x="1849" y="2479" transform="rotate(-90 1849 2479)" textLength="30" lengthAdjust="spacingAndGlyphs">3.6</text>
<text x="2045.5" y="2502" transform="rotate(-90 2045.5 2502)" textLength="30" lengthAdjust="spacingAndGlyphs">0.7</text>
<text x="2242" y="2502" transform="rotate(-90 2242 2502)" textLength="30" lengthAdjust="spacingAndGlyphs">0.8</text>
</g>
<g fill="#d8b4e0">
<text x="1091.5" y="2328" transform="rotate(-90 1091.5 2328)" textLength="41" lengthAdjust="spacingAndGlyphs">22.2</text>
<text x="1288" y="2173" transform="rotate(-90 1288 2173)" textLength="41" lengthAdjust="spacingAndGlyphs">41.4</text>
<text x="1484.5" y="2361" transform="rotate(-90 1484.5 2361)" textLength="41" lengthAdjust="spacingAndGlyphs">18.2</text>
<text x="1681" y="2418" transform="rotate(-90 1681 2418)" textLength="41" lengthAdjust="spacingAndGlyphs">11.1</text>
<text x="1877.5" y="2468" transform="rotate(-90 1877.5 2468)" textLength="30" lengthAdjust="spacingAndGlyphs">4.9</text>
<text x="2074" y="2498" transform="rotate(-90 2074 2498)" textLength="30" lengthAdjust="spacingAndGlyphs">1.2</text>
<text x="2270.5" y="2500" transform="rotate(-90 2270.5 2500)" textLength="30" lengthAdjust="spacingAndGlyphs">1.0</text>
</g>
<g fill="#a4a4a4">
<text x="1120" y="2283" transform="rotate(-90 1120 2283)" textLength="41" lengthAdjust="spacingAndGlyphs">27.8</text>
<text x="1316.5" y="2238" transform="rotate(-90 1316.5 2238)" textLength="41" lengthAdjust="spacingAndGlyphs">33.4</text>
<text x="1513" y="2341" transform="rotate(-90 1513 2341)" textLength="41" lengthAdjust="spacingAndGlyphs">20.6</text>
<text x="1709.5" y="2400" transform="rotate(-90 1709.5 2400)" textLength="41" lengthAdjust="spacingAndGlyphs">13.4</text>
<text x="1906" y="2479" transform="rotate(-90 1906 2479)" textLength="30" lengthAdjust="spacingAndGlyphs">3.6</text>
<text x="2102.5" y="2501" transform="rotate(-90 2102.5 2501)" textLength="30" lengthAdjust="spacingAndGlyphs">0.9</text>
<text x="2299" y="2502" transform="rotate(-90 2299 2502)" textLength="30" lengthAdjust="spacingAndGlyphs">0.3</text>
</g>
<g fill="#8c84cc">
<text x="1148.5" y="2265" transform="rotate(-90 1148.5 2265)" textLength="41" lengthAdjust="spacingAndGlyphs">30.0</text>
<text x="1345" y="2148" transform="rotate(-90 1345 2148)" textLength="41" lengthAdjust="spacingAndGlyphs">44.4</text>
<text x="1541.5" y="2383" transform="rotate(-90 1541.5 2383)" textLength="41" lengthAdjust="spacingAndGlyphs">15.4</text>
<text x="1738" y="2446" transform="rotate(-90 1738 2446)" textLength="30" lengthAdjust="spacingAndGlyphs">7.7</text>
<text x="1934.5" y="2493" transform="rotate(-90 1934.5 2493)" textLength="30" lengthAdjust="spacingAndGlyphs">1.9</text>
<text x="2131" y="2505" transform="rotate(-90 2131 2505)" textLength="30" lengthAdjust="spacingAndGlyphs">0.4</text>
<text x="2327.5" y="2502" transform="rotate(-90 2327.5 2502)" textLength="30" lengthAdjust="spacingAndGlyphs">0.2</text>
</g>
<g fill="#c490c8">
<text x="1177" y="2327" transform="rotate(-90 1177 2327)" textLength="41" lengthAdjust="spacingAndGlyphs">22.4</text>
<text x="1373.5" y="2142" transform="rotate(-90 1373.5 2142)" textLength="41" lengthAdjust="spacingAndGlyphs">45.2</text>
<text x="1570" y="2397" transform="rotate(-90 1570 2397)" textLength="41" lengthAdjust="spacingAndGlyphs">13.7</text>
<text x="1766.5" y="2405" transform="rotate(-90 1766.5 2405)" textLength="41" lengthAdjust="spacingAndGlyphs">12.7</text>
<text x="1963" y="2476" transform="rotate(-90 1963 2476)" textLength="30" lengthAdjust="spacingAndGlyphs">3.9</text>
<text x="2159.5" y="2502" transform="rotate(-90 2159.5 2502)" textLength="30" lengthAdjust="spacingAndGlyphs">0.7</text>
<text x="2356" y="2498" transform="rotate(-90 2356 2498)" textLength="30" lengthAdjust="spacingAndGlyphs">1.3</text>
</g>
</g>
<g class="cat">
<text x="1110" y="2575">전세자금 대출</text>
<text x="1306" y="2575">주택 구입 자금 대출</text>
<text x="1503" y="2575">주거비 지원</text>
<text x="1700" y="2575">공공임대 입주</text>
<text x="1896" y="2575">민간임대주택</text><text x="1896" y="2609">관리감독 강화</text>
<text x="2092" y="2575">임대차 분쟁 발생 시</text><text x="2092" y="2609">조정·지원</text>
<text x="2289" y="2575">기타</text>
</g>

<!-- ================= S4 left ================= -->
<text x="133" y="2850" font-size="38" class="b" fill="#c0578a" textLength="151" lengthAdjust="spacingAndGlyphs">전공 계열</text>
<text x="295" y="2850" font-size="32" class="n" fill="#c0578a" textLength="72" lengthAdjust="spacingAndGlyphs">2022</text>
<text x="1078" y="2785" class="src" textLength="232" lengthAdjust="spacingAndGlyphs">국무조정실 「청년삶실태조사」</text>
<rect x="1194" y="2808" width="116" height="46" fill="none" stroke="#dedad3" stroke-width="2"/>
<text x="1252" y="2838" class="unit">단위: %</text>
<circle cx="1207" cy="2891" r="11" fill="#cc77a3"/><circle cx="1207" cy="2928" r="11" fill="#fcc8dc"/><circle cx="1207" cy="2967" r="11" fill="#a4a4a4"/><circle cx="1207" cy="3004" r="11" fill="#9a90cc"/><circle cx="1207" cy="3042" r="11" fill="#c490c8"/>
<text x="1229" y="2899" class="lg">수도권</text><text x="1229" y="2936" class="lg">비수도권</text><text x="1229" y="2975" class="lg">서울</text><text x="1229" y="3012" class="lg">인천</text><text x="1229" y="3050" class="lg">경기</text>
<g>
<g fill="#c0578a">
<rect x="132.5" y="3199.2" width="15" height="144.8" rx="7.5"/><rect x="253.3" y="2990.2" width="15" height="353.8" rx="7.5"/><rect x="374.1" y="3159.9" width="15" height="184.1" rx="7.5"/><rect x="494.9" y="3041.9" width="15" height="302.1" rx="7.5"/><rect x="615.7" y="3205.4" width="15" height="138.6" rx="7.5"/><rect x="736.5" y="3130.9" width="15" height="213.1" rx="7.5"/><rect x="857.3" y="3012.9" width="15" height="331.1" rx="7.5"/><rect x="978.1" y="3079.2" width="15" height="264.8" rx="7.5"/><rect x="1098.9" y="3184.7" width="15" height="159.3" rx="7.5"/><rect x="1219.7" y="3329" width="15" height="15" rx="7.5"/>
</g>
<g fill="#fcc8dc">
<rect x="151.6" y="3174.4" width="15" height="169.6" rx="7.5"/><rect x="272.4" y="3091.6" width="15" height="252.4" rx="7.5"/><rect x="393.2" y="3215.8" width="15" height="128.2" rx="7.5"/><rect x="514" y="3044" width="15" height="300" rx="7.5"/><rect x="634.8" y="3215.8" width="15" height="128.2" rx="7.5"/><rect x="755.6" y="3197.2" width="15" height="146.8" rx="7.5"/><rect x="876.4" y="2909.4" width="15" height="434.6" rx="7.5"/><rect x="997.2" y="2981.9" width="15" height="362.1" rx="7.5"/><rect x="1118" y="3186.8" width="15" height="157.2" rx="7.5"/><rect x="1238.8" y="3313.1" width="15" height="30.9" rx="7.5"/>
</g>
<g fill="#a6a6a6">
<rect x="170.7" y="3232.4" width="15" height="111.6" rx="7.5"/><rect x="291.5" y="2938.4" width="15" height="405.6" rx="7.5"/><rect x="412.3" y="3112.3" width="15" height="231.7" rx="7.5"/><rect x="533.1" y="2994.3" width="15" height="349.7" rx="7.5"/><rect x="653.9" y="3186.8" width="15" height="157.2" rx="7.5"/><rect x="774.7" y="3264" width="15" height="80" rx="7.5"/><rect x="895.5" y="3089.5" width="15" height="254.5" rx="7.5"/><rect x="1016.3" y="3089.5" width="15" height="254.5" rx="7.5"/><rect x="1137.1" y="3211.7" width="15" height="132.3" rx="7.5"/><rect x="1257.9" y="3329" width="15" height="15" rx="7.5"/>
</g>
<g fill="#9a90cc">
<rect x="189.8" y="3135.1" width="15" height="208.9" rx="7.5"/><rect x="310.6" y="3044" width="15" height="300" rx="7.5"/><rect x="431.4" y="3209.6" width="15" height="134.4" rx="7.5"/><rect x="552.2" y="3070.9" width="15" height="273.1" rx="7.5"/><rect x="673" y="3226.1" width="15" height="117.9" rx="7.5"/><rect x="793.8" y="3087.5" width="15" height="256.5" rx="7.5"/><rect x="914.6" y="2932.2" width="15" height="411.8" rx="7.5"/><rect x="1035.4" y="3110.2" width="15" height="233.8" rx="7.5"/><rect x="1156.2" y="3182.7" width="15" height="161.3" rx="7.5"/><rect x="1277" y="3329" width="15" height="15" rx="7.5"/>
</g>
<g fill="#c28ec8">
<rect x="208.9" y="3184.7" width="15" height="159.3" rx="7.5"/><rect x="329.7" y="3017.1" width="15" height="326.9" rx="7.5"/><rect x="450.5" y="3184.7" width="15" height="159.3" rx="7.5"/><rect x="571.3" y="3073" width="15" height="271" rx="7.5"/><rect x="692.1" y="3213.7" width="15" height="130.3" rx="7.5"/><rect x="812.9" y="3128.9" width="15" height="215.1" rx="7.5"/><rect x="933.7" y="2969.5" width="15" height="374.5" rx="7.5"/><rect x="1054.5" y="3064.7" width="15" height="279.3" rx="7.5"/><rect x="1175.3" y="3162" width="15" height="182" rx="7.5"/><rect x="1296.1" y="3329" width="15" height="15" rx="7.5"/>
</g>
</g>
<g class="r4">
<g fill="#c0578a">
<text x="149" y="3189" transform="rotate(-90 149 3189)" textLength="27" lengthAdjust="spacingAndGlyphs">6.8</text>
<text x="269.8" y="2980" transform="rotate(-90 269.8 2980)" textLength="37" lengthAdjust="spacingAndGlyphs">16.9</text>
<text x="390.6" y="3150" transform="rotate(-90 390.6 3150)" textLength="27" lengthAdjust="spacingAndGlyphs">8.7</text>
<text x="511.4" y="3032" transform="rotate(-90 511.4 3032)" textLength="37" lengthAdjust="spacingAndGlyphs">14.4</text>
<text x="632.2" y="3195" transform="rotate(-90 632.2 3195)" textLength="27" lengthAdjust="spacingAndGlyphs">6.5</text>
<text x="753" y="3121" transform="rotate(-90 753 3121)" textLength="37" lengthAdjust="spacingAndGlyphs">10.1</text>
<text x="873.8" y="3003" transform="rotate(-90 873.8 3003)" textLength="37" lengthAdjust="spacingAndGlyphs">15.8</text>
<text x="994.6" y="3069" transform="rotate(-90 994.6 3069)" textLength="37" lengthAdjust="spacingAndGlyphs">12.6</text>
<text x="1115.4" y="3175" transform="rotate(-90 1115.4 3175)" textLength="27" lengthAdjust="spacingAndGlyphs">7.5</text>
<text x="1236.2" y="3319" transform="rotate(-90 1236.2 3319)" textLength="27" lengthAdjust="spacingAndGlyphs">0.5</text>
</g>
<g fill="#f4a3c2">
<text x="168.1" y="3164" transform="rotate(-90 168.1 3164)" textLength="27" lengthAdjust="spacingAndGlyphs">8.0</text>
<text x="288.9" y="3081" transform="rotate(-90 288.9 3081)" textLength="37" lengthAdjust="spacingAndGlyphs">12.0</text>
<text x="409.7" y="3206" transform="rotate(-90 409.7 3206)" textLength="27" lengthAdjust="spacingAndGlyphs">6.0</text>
<text x="530.5" y="3034" transform="rotate(-90 530.5 3034)" textLength="37" lengthAdjust="spacingAndGlyphs">14.3</text>
<text x="651.3" y="3206" transform="rotate(-90 651.3 3206)" textLength="27" lengthAdjust="spacingAndGlyphs">6.0</text>
<text x="772.1" y="3187" transform="rotate(-90 772.1 3187)" textLength="27" lengthAdjust="spacingAndGlyphs">6.9</text>
<text x="892.9" y="2899" transform="rotate(-90 892.9 2899)" textLength="37" lengthAdjust="spacingAndGlyphs">20.8</text>
<text x="1013.7" y="2972" transform="rotate(-90 1013.7 2972)" textLength="37" lengthAdjust="spacingAndGlyphs">17.3</text>
<text x="1134.5" y="3177" transform="rotate(-90 1134.5 3177)" textLength="27" lengthAdjust="spacingAndGlyphs">7.4</text>
<text x="1255.3" y="3303" transform="rotate(-90 1255.3 3303)" textLength="27" lengthAdjust="spacingAndGlyphs">1.3</text>
</g>
<g fill="#a6a6a6">
<text x="187.2" y="3222" transform="rotate(-90 187.2 3222)" textLength="27" lengthAdjust="spacingAndGlyphs">5.2</text>
<text x="308" y="2928" transform="rotate(-90 308 2928)" textLength="37" lengthAdjust="spacingAndGlyphs">19.4</text>
<text x="428.8" y="3102" transform="rotate(-90 428.8 3102)" textLength="37" lengthAdjust="spacingAndGlyphs">11.0</text>
<text x="549.6" y="2984" transform="rotate(-90 549.6 2984)" textLength="37" lengthAdjust="spacingAndGlyphs">16.7</text>
<text x="670.4" y="3177" transform="rotate(-90 670.4 3177)" textLength="27" lengthAdjust="spacingAndGlyphs">7.4</text>
<text x="791.2" y="3254" transform="rotate(-90 791.2 3254)" textLength="27" lengthAdjust="spacingAndGlyphs">9.5</text>
<text x="912" y="3079" transform="rotate(-90 912 3079)" textLength="37" lengthAdjust="spacingAndGlyphs">12.1</text>
<text x="1032.8" y="3079" transform="rotate(-90 1032.8 3079)" textLength="37" lengthAdjust="spacingAndGlyphs">12.1</text>
<text x="1153.6" y="3202" transform="rotate(-90 1153.6 3202)" textLength="27" lengthAdjust="spacingAndGlyphs">6.2</text>
<text x="1274.4" y="3319" transform="rotate(-90 1274.4 3319)" textLength="27" lengthAdjust="spacingAndGlyphs">0.5</text>
</g>
<g fill="#8c84cc">
<text x="206.3" y="3125" transform="rotate(-90 206.3 3125)" textLength="27" lengthAdjust="spacingAndGlyphs">9.9</text>
<text x="327.1" y="3034" transform="rotate(-90 327.1 3034)" textLength="37" lengthAdjust="spacingAndGlyphs">14.3</text>
<text x="447.9" y="3200" transform="rotate(-90 447.9 3200)" textLength="27" lengthAdjust="spacingAndGlyphs">6.3</text>
<text x="568.7" y="3061" transform="rotate(-90 568.7 3061)" textLength="37" lengthAdjust="spacingAndGlyphs">13.0</text>
<text x="689.5" y="3216" transform="rotate(-90 689.5 3216)" textLength="27" lengthAdjust="spacingAndGlyphs">5.5</text>
<text x="810.3" y="3077" transform="rotate(-90 810.3 3077)" textLength="37" lengthAdjust="spacingAndGlyphs">12.2</text>
<text x="931.1" y="2922" transform="rotate(-90 931.1 2922)" textLength="37" lengthAdjust="spacingAndGlyphs">19.7</text>
<text x="1051.9" y="3100" transform="rotate(-90 1051.9 3100)" textLength="37" lengthAdjust="spacingAndGlyphs">11.1</text>
<text x="1172.7" y="3173" transform="rotate(-90 1172.7 3173)" textLength="27" lengthAdjust="spacingAndGlyphs">7.6</text>
<text x="1293.5" y="3319" transform="rotate(-90 1293.5 3319)" textLength="27" lengthAdjust="spacingAndGlyphs">0.4</text>
</g>
<g fill="#c28ec8">
<text x="225.4" y="3175" transform="rotate(-90 225.4 3175)" textLength="27" lengthAdjust="spacingAndGlyphs">7.5</text>
<text x="346.2" y="3007" transform="rotate(-90 346.2 3007)" textLength="37" lengthAdjust="spacingAndGlyphs">15.6</text>
<text x="467" y="3175" transform="rotate(-90 467 3175)" textLength="27" lengthAdjust="spacingAndGlyphs">7.5</text>
<text x="587.8" y="3063" transform="rotate(-90 587.8 3063)" textLength="37" lengthAdjust="spacingAndGlyphs">12.9</text>
<text x="708.6" y="3204" transform="rotate(-90 708.6 3204)" textLength="27" lengthAdjust="spacingAndGlyphs">6.1</text>
<text x="829.4" y="3119" transform="rotate(-90 829.4 3119)" textLength="37" lengthAdjust="spacingAndGlyphs">10.2</text>
<text x="950.2" y="2959" transform="rotate(-90 950.2 2959)" textLength="37" lengthAdjust="spacingAndGlyphs">17.9</text>
<text x="1071" y="3055" transform="rotate(-90 1071 3055)" textLength="37" lengthAdjust="spacingAndGlyphs">13.3</text>
<text x="1191.8" y="3152" transform="rotate(-90 1191.8 3152)" textLength="27" lengthAdjust="spacingAndGlyphs">8.6</text>
<text x="1312.6" y="3319" transform="rotate(-90 1312.6 3319)" textLength="27" lengthAdjust="spacingAndGlyphs">0.5</text>
</g>
</g>
<g class="cat">
<text x="178" y="3393">교육</text>
<text x="299" y="3393">예술 및</text><text x="299" y="3422">인문학</text>
<text x="420" y="3393">사회과학·</text><text x="420" y="3422">언론</text><text x="420" y="3451">및 정보학</text>
<text x="541" y="3393">경영·행정</text><text x="541" y="3422">및 법학</text>
<text x="661" y="3393">자연과학·</text><text x="661" y="3422">수학 및</text><text x="661" y="3451">통계학</text>
<text x="782" y="3393">정보통신</text><text x="782" y="3422">기술</text>
<text x="903" y="3393">공학·제조</text><text x="903" y="3422">및 건설</text>
<text x="1024" y="3393">보건 및</text><text x="1024" y="3422">복지</text>
<text x="1145" y="3393">서비스</text>
<text x="1265" y="3393">농림어업</text><text x="1265" y="3422">및 수의학</text>
</g>

<!-- ================= S4 right ================= -->
<text x="1457" y="2846" font-size="38" class="b" fill="#c0578a" textLength="504" lengthAdjust="spacingAndGlyphs">교육이나 훈련을 받고 싶은 영역</text>
<text x="1973" y="2846" font-size="32" class="n" fill="#c0578a" textLength="72" lengthAdjust="spacingAndGlyphs">2022</text>
<rect x="2089" y="2811" width="117" height="47" fill="none" stroke="#dedad3" stroke-width="2"/>
<text x="2147" y="2842" class="unit">단위: %</text>
<text x="2228" y="2851" class="src" textLength="226" lengthAdjust="spacingAndGlyphs">국무조정실 「청년삶실태조사」</text>
<circle cx="2103" cy="2891" r="11" fill="#cc77a3"/><circle cx="2103" cy="2928" r="11" fill="#fcc8dc"/><circle cx="2103" cy="2966" r="11" fill="#a4a4a4"/><circle cx="2103" cy="3004" r="11" fill="#9a90cc"/><circle cx="2103" cy="3041" r="11" fill="#c490c8"/>
<text x="2126" y="2899" class="lg">수도권</text><text x="2126" y="2936" class="lg">비수도권</text><text x="2126" y="2974" class="lg">서울</text><text x="2126" y="3012" class="lg">인천</text><text x="2126" y="3049" class="lg">경기</text>
<g>
<g fill="#c0578a">
<rect x="1461" y="2987.9" width="20" height="357.1" rx="10"/><rect x="1628.2" y="3163.4" width="20" height="181.6" rx="10"/><rect x="1795.4" y="3256.5" width="20" height="88.5" rx="10"/><rect x="1962.6" y="3321.5" width="20" height="23.5" rx="10"/><rect x="2129.8" y="3338" width="20" height="7"/><rect x="2297" y="2999.5" width="20" height="345.5" rx="10"/>
</g>
<g fill="#fcc8dc">
<rect x="1487.5" y="2985.9" width="20" height="359.1" rx="10"/><rect x="1654.7" y="3193.5" width="20" height="151.5" rx="10"/><rect x="1821.9" y="3278.9" width="20" height="66.1" rx="10"/><rect x="1989.1" y="3317.7" width="20" height="27.3" rx="10"/><rect x="2156.3" y="3323" width="20" height="22" rx="10"/><rect x="2323.5" y="2960.7" width="20" height="384.3" rx="10"/>
</g>
<g fill="#a6a6a6">
<rect x="1514" y="2954.9" width="20" height="390.1" rx="10"/><rect x="1681.2" y="3229.4" width="20" height="115.6" rx="10"/><rect x="1848.4" y="3225.5" width="20" height="119.5" rx="10"/><rect x="2015.6" y="3313.8" width="20" height="31.2" rx="10"/><rect x="2182.8" y="3338" width="20" height="7"/><rect x="2350" y="3005.3" width="20" height="339.7" rx="10"/>
</g>
<g fill="#9a90cc">
<rect x="1540.5" y="2954.9" width="20" height="390.1" rx="10"/><rect x="1707.7" y="3198.3" width="20" height="146.7" rx="10"/><rect x="1874.9" y="3230.4" width="20" height="114.6" rx="10"/><rect x="2042.1" y="3323" width="20" height="22" rx="10"/><rect x="2209.3" y="3322.5" width="20" height="22.5" rx="10"/><rect x="2376.5" y="3031.5" width="20" height="313.5" rx="10"/>
</g>
<g fill="#c28ec8">
<rect x="1567" y="3016" width="20" height="329" rx="10"/><rect x="1734.2" y="3116.9" width="20" height="228.1" rx="10"/><rect x="1901.4" y="3281.8" width="20" height="63.2" rx="10"/><rect x="2068.6" y="3323" width="20" height="22" rx="10"/><rect x="2235.8" y="3338" width="20" height="7"/><rect x="2403" y="2988.8" width="20" height="356.2" rx="10"/>
</g>
</g>
<g class="r5">
<g fill="#c0578a">
<text x="1481" y="2976" transform="rotate(-90 1481 2976)" textLength="41" lengthAdjust="spacingAndGlyphs">36.2</text>
<text x="1648.2" y="3151" transform="rotate(-90 1648.2 3151)" textLength="41" lengthAdjust="spacingAndGlyphs">18.1</text>
<text x="1815.4" y="3244" transform="rotate(-90 1815.4 3244)" textLength="30" lengthAdjust="spacingAndGlyphs">8.5</text>
<text x="1982.6" y="3310" transform="rotate(-90 1982.6 3310)" textLength="30" lengthAdjust="spacingAndGlyphs">1.8</text>
<text x="2149.8" y="3326" transform="rotate(-90 2149.8 3326)" textLength="30" lengthAdjust="spacingAndGlyphs">0.5</text>
<text x="2317" y="2988" transform="rotate(-90 2317 2988)" textLength="41" lengthAdjust="spacingAndGlyphs">35.0</text>
</g>
<g fill="#f4a3c2">
<text x="1507.5" y="2974" transform="rotate(-90 1507.5 2974)" textLength="41" lengthAdjust="spacingAndGlyphs">36.4</text>
<text x="1674.7" y="3181" transform="rotate(-90 1674.7 3181)" textLength="41" lengthAdjust="spacingAndGlyphs">15.0</text>
<text x="1841.9" y="3267" transform="rotate(-90 1841.9 3267)" textLength="30" lengthAdjust="spacingAndGlyphs">6.2</text>
<text x="2009.1" y="3306" transform="rotate(-90 2009.1 3306)" textLength="30" lengthAdjust="spacingAndGlyphs">2.2</text>
<text x="2176.3" y="3311" transform="rotate(-90 2176.3 3311)" textLength="30" lengthAdjust="spacingAndGlyphs">1.2</text>
<text x="2343.5" y="2949" transform="rotate(-90 2343.5 2949)" textLength="41" lengthAdjust="spacingAndGlyphs">39.0</text>
</g>
<g fill="#a6a6a6">
<text x="1534" y="2943" transform="rotate(-90 1534 2943)" textLength="41" lengthAdjust="spacingAndGlyphs">39.6</text>
<text x="1701.2" y="3217" transform="rotate(-90 1701.2 3217)" textLength="41" lengthAdjust="spacingAndGlyphs">11.3</text>
<text x="1868.4" y="3213" transform="rotate(-90 1868.4 3213)" textLength="41" lengthAdjust="spacingAndGlyphs">11.7</text>
<text x="2035.6" y="3302" transform="rotate(-90 2035.6 3302)" textLength="30" lengthAdjust="spacingAndGlyphs">2.6</text>
<text x="2202.8" y="3326" transform="rotate(-90 2202.8 3326)" textLength="30" lengthAdjust="spacingAndGlyphs">0.4</text>
<text x="2370" y="2993" transform="rotate(-90 2370 2993)" textLength="41" lengthAdjust="spacingAndGlyphs">34.4</text>
</g>
<g fill="#8c84cc">
<text x="1560.5" y="2943" transform="rotate(-90 1560.5 2943)" textLength="41" lengthAdjust="spacingAndGlyphs">39.6</text>
<text x="1727.7" y="3186" transform="rotate(-90 1727.7 3186)" textLength="41" lengthAdjust="spacingAndGlyphs">14.5</text>
<text x="1894.9" y="3218" transform="rotate(-90 1894.9 3218)" textLength="41" lengthAdjust="spacingAndGlyphs">11.2</text>
<text x="2062.1" y="3311" transform="rotate(-90 2062.1 3311)" textLength="30" lengthAdjust="spacingAndGlyphs">1.3</text>
<text x="2229.3" y="3311" transform="rotate(-90 2229.3 3311)" textLength="30" lengthAdjust="spacingAndGlyphs">1.7</text>
<text x="2396.5" y="3020" transform="rotate(-90 2396.5 3020)" textLength="41" lengthAdjust="spacingAndGlyphs">31.7</text>
</g>
<g fill="#c28ec8">
<text x="1587" y="3004" transform="rotate(-90 1587 3004)" textLength="41" lengthAdjust="spacingAndGlyphs">33.3</text>
<text x="1754.2" y="3105" transform="rotate(-90 1754.2 3105)" textLength="41" lengthAdjust="spacingAndGlyphs">22.9</text>
<text x="1921.4" y="3270" transform="rotate(-90 1921.4 3270)" textLength="30" lengthAdjust="spacingAndGlyphs">5.9</text>
<text x="2088.6" y="3311" transform="rotate(-90 2088.6 3311)" textLength="30" lengthAdjust="spacingAndGlyphs">1.5</text>
<text x="2255.8" y="3326" transform="rotate(-90 2255.8 3326)" textLength="30" lengthAdjust="spacingAndGlyphs">0.2</text>
<text x="2423" y="2977" transform="rotate(-90 2423 2977)" textLength="41" lengthAdjust="spacingAndGlyphs">36.1</text>
</g>
</g>
<g class="cat">
<text x="1524" y="3392">특정 직종과</text><text x="1524" y="3421">관련된 직업훈련</text>
<text x="1691" y="3392">창업교육</text>
<text x="1858" y="3392">어학</text>
<text x="2026" y="3392">교양</text>
<text x="2193" y="3392">기타</text>
<text x="2360" y="3392">원치 않음</text>
</g>

<!-- logo -->
<circle cx="2240" cy="3481" r="25" fill="#0b3a78"/>
<path d="M2218 3470 A25 25 0 0 1 2265 3478 A12 12 0 0 1 2242 3478 A12 12 0 0 0 2218 3470 Z" fill="#d0122f"/>
<circle cx="2243" cy="3478" r="11" fill="#f7f6f2"/>
<path d="M2232 3478 A11 11 0 0 1 2254 3478 A11 11 0 0 0 2232 3478" fill="#0b3a78"/>
<text x="2282" y="3476" font-size="16" class="b" fill="#333" textLength="39" lengthAdjust="spacingAndGlyphs">통계청</text>
<text x="2280" y="3502" font-size="26" class="b" fill="#333" textLength="141" lengthAdjust="spacingAndGlyphs">경인지방통계청</text>
</svg>
</body></html>
